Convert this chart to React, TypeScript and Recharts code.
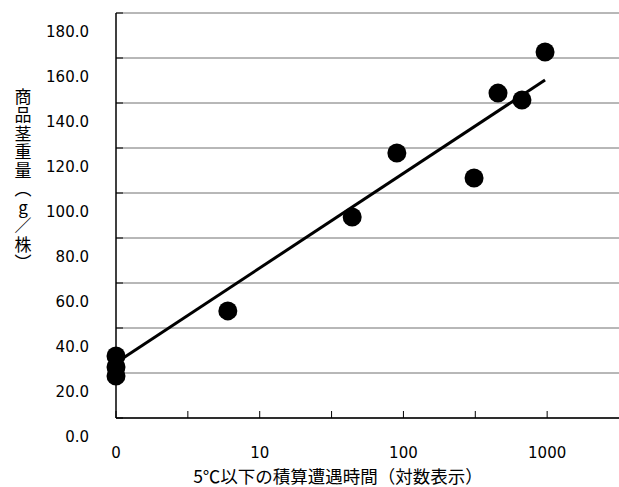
import React from 'react';
import { ScatterChart, Scatter, XAxis, YAxis, CartesianGrid } from 'recharts';

// accumulated hours below 5°C (raw), and marketable stem weight (g/plant)
const hours = [0, 0, 0, 6, 44, 90, 310, 455, 668, 967];
const weights = [27.6, 22.7, 18.7, 47.6, 89.3, 117.8, 106.7, 144.4, 141.3, 162.7];

// fitted trend line end points
const trendHours = [0, 967];
const trendWeights = [24.6, 150.2];

const yTicks = [0, 20, 40, 60, 80, 100, 120, 140, 160, 180];
const xTicks = [0, 0.5, 1, 1.5, 2, 2.5, 3];
const xTickLabels: Record<string, string> = { '0': '0', '1': '10', '2': '100', '3': '1000' };

const yTitle = '商品茎重量（g／株）';
const xTitle = '5℃以下の積算遭遇時間（対数表示）';

const logPos = (h: number) => (h >= 1 ? Math.log10(h) : 0);
const points = hours.map((h, i) => ({ u: logPos(h), w: weights[i] }));
const trend = trendHours.map((h, i) => ({ u: logPos(h), w: trendWeights[i] }));

const numFont = 'DejaVu Sans, sans-serif';
const cjkFont = '"Noto Sans CJK JP", sans-serif';

const XTick = (props: any) => {
  const { x, y, payload } = props;
  const label = xTickLabels[String(payload.value)];
  return (
    <g>
      <line x1={x} x2={x} y1={y} y2={y - 7} stroke="#000" strokeWidth={1} />
      {label !== undefined && (
        <text x={x} y={y + 40} textAnchor="middle" fontFamily={numFont} fontSize={15} fill="#000">
          {label}
        </text>
      )}
    </g>
  );
};

const YTick = (props: any) => {
  const { x, y, payload } = props;
  return (
    <g>
      <line x1={x} x2={x + 7} y1={y} y2={y} stroke="#000" strokeWidth={1} />
      <text x={x - 27} y={y + 23.5} textAnchor="end" fontFamily={numFont} fontSize={15} fill="#000">
        {Number(payload.value).toFixed(1)}
      </text>
    </g>
  );
};

const Dot = (p: any) => <circle cx={p.cx} cy={p.cy} r={9.5} fill="#000" />;
const NoDot = () => null;

export default function App() {
  return (
    <div style={{ position: 'absolute', left: 0, top: 0, width: 619, height: 487, background: '#fff' }}>
      <ScatterChart width={619} height={487} margin={{ top: 13, right: 0, bottom: 39, left: 56 }}>
        <CartesianGrid horizontal vertical={false} stroke="#707070" strokeWidth={1} />
        <XAxis
          type="number"
          dataKey="u"
          domain={[0, 3.5]}
          ticks={xTicks}
          interval={0}
          height={30}
          tickSize={0}
          tickMargin={0}
          tickLine={false}
          axisLine={{ stroke: '#000', strokeWidth: 1.5 }}
          tick={<XTick />}
        />
        <YAxis
          type="number"
          dataKey="w"
          domain={[0, 180]}
          ticks={yTicks}
          interval={0}
          width={60}
          tickSize={0}
          tickMargin={0}
          tickLine={false}
          axisLine={{ stroke: '#000', strokeWidth: 1.5 }}
          tick={<YTick />}
        />
        <Scatter
          data={trend}
          line={{ stroke: '#000', strokeWidth: 3 }}
          shape={<NoDot />}
          isAnimationActive={false}
        />
        <Scatter data={points} shape={<Dot />} isAnimationActive={false} />
      </ScatterChart>
      <svg
        width={619}
        height={487}
        style={{ position: 'absolute', left: 0, top: 0, pointerEvents: 'none', overflow: 'visible' }}
      >
        <text
          x={23}
          y={88}
          fontFamily={cjkFont}
          fontSize={17}
          fill="#000"
          style={{ writingMode: 'vertical-rl', textOrientation: 'upright', letterSpacing: 1.5 } as any}
        >
          {yTitle}
        </text>
        <text x={338} y={483} textAnchor="middle" fontFamily={cjkFont} fontSize={17.5} fill="#000">
          {xTitle}
        </text>
      </svg>
    </div>
  );
}
